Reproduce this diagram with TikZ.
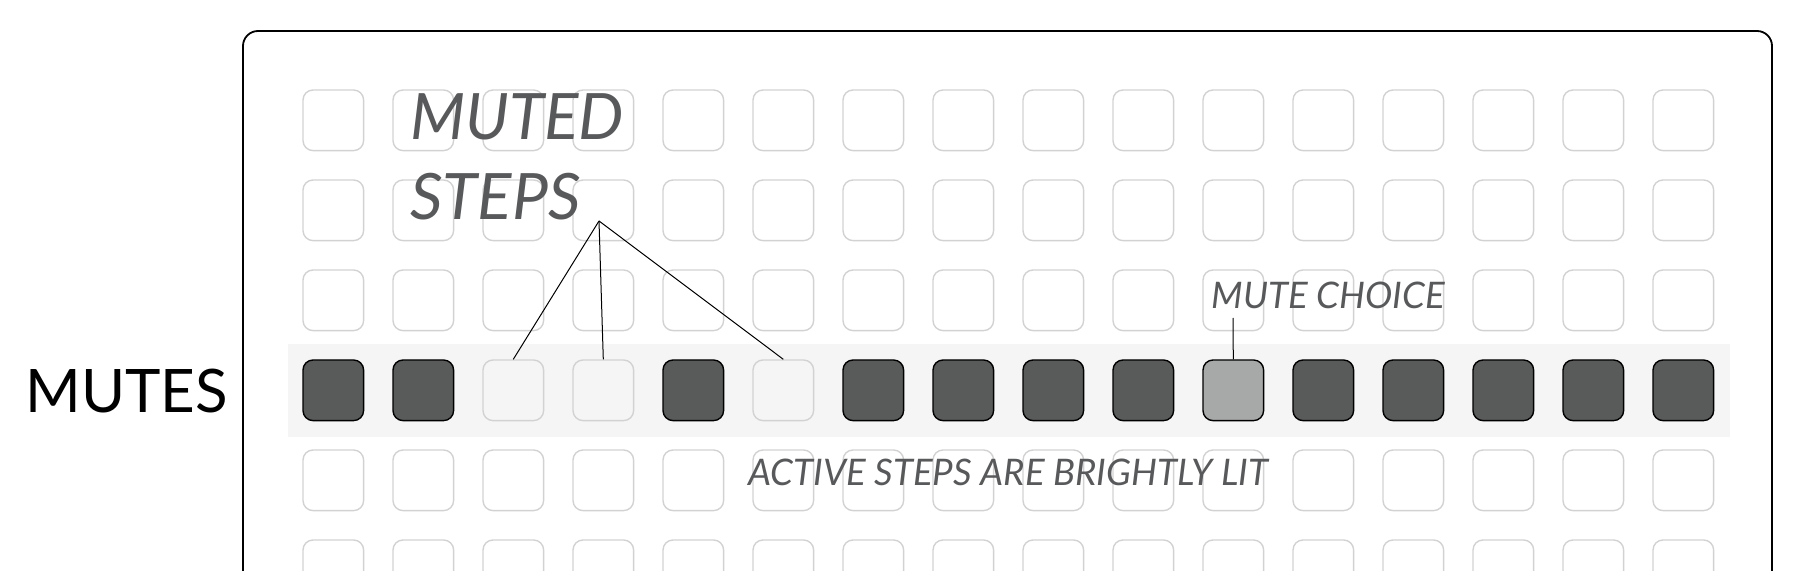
\documentclass[tikz,border=0pt]{standalone}
\usepackage{fontspec}
\setmainfont{Lato}
\usetikzlibrary{positioning}

\definecolor{padline}{HTML}{D2D2D2}
\definecolor{padlit}{HTML}{595B5A}
\definecolor{padhalf}{HTML}{A7A9A8}
\definecolor{bandgray}{HTML}{F5F5F5}
\definecolor{notegray}{HTML}{58595B}

\begin{document}
\begin{tikzpicture}[x=0.5pt, y=-0.5pt,
   pad/.style={draw=padline, line width=0.7pt, rounded corners=5pt,
               minimum size=30.3pt, inner sep=0pt},
   lit/.style={pad, draw=black, fill=padlit},
   chosen/.style={pad, draw=black, fill=padhalf},
   note/.style={font=\itshape\fontsize{18.3}{22}\selectfont, text=notegray, inner sep=0pt}]
   \useasboundingbox (0,0) rectangle (1798,571);
   \clip (0,0) rectangle (1798,571);

   % draw frame and highlighted row
   \draw[line width=0.9pt, rounded corners=7.5pt] (243,31) rectangle (1772,700);
   \fill[bandgray] (288,344) rectangle (1730,437);

   % draw unused pads
   \foreach \r in {1,2,3,5,6}
     \foreach \c in {1,...,16}
       \node[pad] (p\r-\c) at ({333.3+90*(\c-1)},{120.3+90*(\r-1)}) {};

   % draw mute row
   \foreach \c/\kind in {1/lit,2/lit,3/pad,4/pad,5/lit,6/pad,7/lit,8/lit,
                         9/lit,10/lit,11/chosen,12/lit,13/lit,14/lit,15/lit,16/lit}
     \node[\kind] (p4-\c) at ({333.3+90*(\c-1)},390.3) {};

   % draw labels
   \node[anchor=base west, inner sep=0pt, font=\fontsize{30}{36}\selectfont] (mutes) at (25,413) {MUTES};
   \node[note, anchor=north west, align=left, font=\itshape\fontsize{32}{40}\selectfont] (muted) at (410,93) {MUTED\\STEPS};
   \node[note, anchor=base west] (choice) at (1211,309) {MUTE CHOICE};
   \node[note, anchor=base west] (active) at (748,485) {ACTIVE STEPS ARE BRIGHTLY LIT};

   % draw pointers
   \coordinate (apex) at (599,221);
   \coordinate (choicefoot) at (1233,318);
   \foreach \c in {3,4,6}
     \draw[line width=0.5pt] (apex) -- (p4-\c.north);
   \draw[line width=0.5pt] (choicefoot) -- (p4-11.north);
\end{tikzpicture}
\end{document}
